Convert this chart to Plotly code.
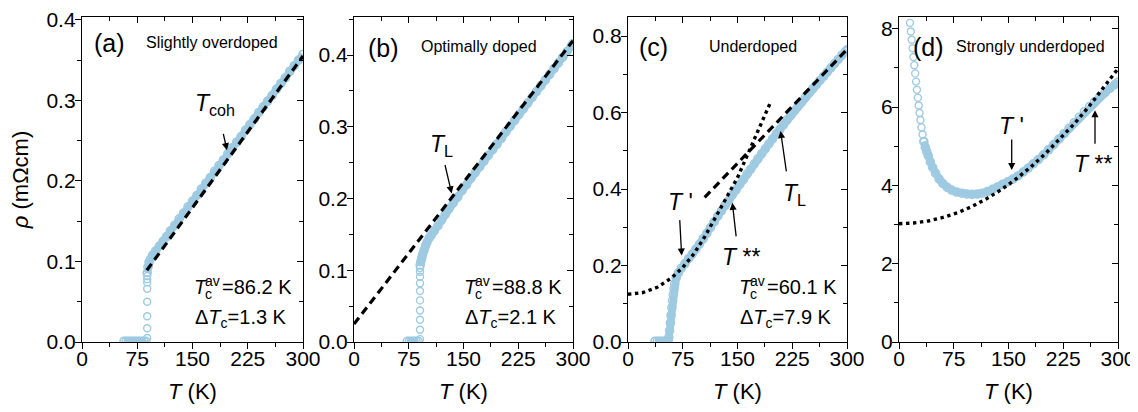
import plotly.graph_objects as go

FONT = "Liberation Sans, Arial, sans-serif"
BLUE = "#9ecae2"

# ---------------- data ----------------
# (a) slightly overdoped
A_FLAT_T = [57, 60, 63, 66, 69, 72, 75, 78, 81, 84, 86.5]
A_FLAT_R = [0.001] * 11
A_TRANS_T = [88.5, 88.5, 88.5, 88.5, 88.5, 88.5, 88.5, 88.5]
A_TRANS_R = [0.005, 0.017, 0.032, 0.050, 0.066, 0.074, 0.078, 0.082]
A_BAND_T = [88.5, 89.5, 91, 93, 96, 100, 105, 110, 115, 120, 126, 132, 138, 144,
            150, 156, 162, 168, 174, 180, 186, 192, 198, 204, 210, 216, 222, 228,
            234, 240, 246, 252, 258, 264, 270, 276, 282, 288, 294, 300]
A_BAND_R = [0.086, 0.093, 0.099, 0.103, 0.108, 0.113, 0.119, 0.125, 0.131, 0.138,
            0.145, 0.153, 0.160, 0.168, 0.175, 0.182, 0.190, 0.197, 0.204, 0.212,
            0.219, 0.226, 0.234, 0.241, 0.248, 0.255, 0.263, 0.270, 0.277, 0.285,
            0.292, 0.299, 0.306, 0.314, 0.321, 0.328, 0.336, 0.343, 0.350, 0.357]
A_FIT_T = [88, 300]
A_FIT_R = [0.089, 0.355]

# (b) optimally doped
B_FLAT_T = [73, 76, 79, 82, 85, 88]
B_FLAT_R = [0.001] * 6
B_TRANS_T = [90.4] * 10
B_TRANS_R = [0.004, 0.017, 0.031, 0.044, 0.058, 0.071, 0.082, 0.091, 0.098, 0.103]
B_BAND_T = [90.6, 91.5, 92.7, 94, 96, 98, 100, 103, 106, 110, 115, 120, 125, 130,
            136, 142, 148, 154, 160, 166, 172, 178, 184, 190, 196, 202, 208, 214,
            220, 226, 232, 238, 244, 250, 256, 262, 268, 274, 280, 286, 292, 298, 300]
B_BAND_R = [0.107, 0.112, 0.117, 0.122, 0.128, 0.134, 0.139, 0.145, 0.149, 0.155,
            0.162, 0.170, 0.178, 0.186, 0.194, 0.202, 0.211, 0.219, 0.228, 0.236,
            0.244, 0.252, 0.260, 0.268, 0.276, 0.284, 0.293, 0.301, 0.309, 0.317,
            0.325, 0.333, 0.341, 0.349, 0.357, 0.365, 0.373, 0.381, 0.389, 0.397,
            0.405, 0.413, 0.416]
B_FIT_T = [0, 300]
B_FIT_R = [0.025, 0.420]

# (c) underdoped
C_BAND_T = [37, 40, 43, 46, 49, 52, 55, 56, 57, 58, 59, 60, 61, 62, 63, 64, 66, 69,
            73, 78, 83, 88, 93, 98, 103, 108, 113, 118, 123, 128, 133, 138, 143,
            148, 153, 158, 163, 168, 173, 178, 183, 188, 193, 198, 203, 208, 213,
            218, 223, 228, 233, 238, 243, 248, 253, 258, 263, 268, 273, 278, 283,
            288, 293, 298, 300]
C_BAND_R = [0.002, 0.002, 0.002, 0.002, 0.002, 0.002, 0.002, 0.012, 0.030, 0.050,
            0.070, 0.090, 0.108, 0.124, 0.139, 0.152, 0.168, 0.181, 0.193, 0.205,
            0.218, 0.230, 0.243, 0.256, 0.270, 0.284, 0.299, 0.314, 0.329, 0.343,
            0.357, 0.370, 0.385, 0.398, 0.412, 0.425, 0.439, 0.452, 0.466, 0.479,
            0.492, 0.505, 0.518, 0.531, 0.544, 0.556, 0.568, 0.581, 0.593, 0.605,
            0.617, 0.628, 0.640, 0.651, 0.662, 0.673, 0.684, 0.695, 0.706, 0.717,
            0.728, 0.739, 0.750, 0.760, 0.764]
C_LIN_T = [105, 300]
C_LIN_R = [0.378, 0.765]
C_DOT_T = [0, 20, 40, 60, 75, 90, 105, 120, 135, 150, 165, 180, 195]
C_DOT_R = [0.125, 0.129, 0.143, 0.168, 0.195, 0.230, 0.275, 0.325, 0.378, 0.430,
           0.495, 0.556, 0.626]

# (d) strongly underdoped
D_SPARSE_T = [15, 16.2, 17.4, 18.6, 19.8, 21, 22.2, 23.4, 24.6, 25.8, 27, 28.2,
              29.4, 30.8, 32.3, 34]
D_SPARSE_R = [8.15, 7.93, 7.72, 7.50, 7.28, 7.07, 6.86, 6.65, 6.44, 6.24, 6.04,
              5.85, 5.67, 5.48, 5.30, 5.12]
D_BAND_T = [34, 36, 38, 40, 43, 46, 50, 55, 60, 66, 72, 79, 86, 93, 100, 107, 114,
            121, 128, 135, 142, 149, 156, 163, 170, 177, 184, 191, 198, 205, 212,
            219, 226, 233, 240, 247, 254, 261, 268, 275, 282, 289, 296, 300]
D_BAND_R = [5.12, 4.97, 4.86, 4.76, 4.60, 4.46, 4.31, 4.16, 4.05, 3.95, 3.88, 3.83,
            3.80, 3.78, 3.77, 3.78, 3.80, 3.84, 3.90, 3.96, 4.03, 4.09, 4.16, 4.24,
            4.34, 4.44, 4.55, 4.66, 4.78, 4.91, 5.04, 5.18, 5.32, 5.46, 5.60, 5.74,
            5.88, 6.01, 6.14, 6.26, 6.37, 6.48, 6.58, 6.63]
D_DOT_T = [0, 20, 40, 60, 80, 100, 120, 140, 160, 180, 200, 220, 240, 260, 280, 300]
D_DOT_R = [3.02, 3.04, 3.09, 3.18, 3.30, 3.46, 3.66, 3.89, 4.16, 4.46, 4.80, 5.17,
           5.57, 6.01, 6.48, 6.98]

PANEL_LABELS = ["(a)", "(b)", "(c)", "(d)"]
PANEL_TITLES = ["Slightly overdoped", "Optimally doped", "Underdoped", "Strongly underdoped"]
TC_AV = ["86.2", "88.8", "60.1"]
DELTA_TC = ["1.3", "2.1", "7.9"]
X_TICKS = [0, 75, 150, 225, 300]
X_MINOR = [37.5, 112.5, 187.5, 262.5]
Y_RANGES = [[0, 0.4035], [0, 0.453], [0, 0.85], [0, 8.3]]
Y_TICKS = [[0, 0.1, 0.2, 0.3, 0.4], [0, 0.1, 0.2, 0.3, 0.4],
           [0, 0.2, 0.4, 0.6, 0.8], [0, 2, 4, 6, 8]]
Y_MINOR = [[0.05, 0.15, 0.25, 0.35], [0.05, 0.15, 0.25, 0.35, 0.45],
           [0.1, 0.3, 0.5, 0.7], [1, 3, 5, 7]]
Y_FMT = [".1f", ".1f", ".1f", "d"]

# ---------------- layout geometry ----------------
# the page body adds an 8px margin, so the figure is 8px smaller and shifted
OFF = 8
W, H = 1138 - OFF, 412 - OFF
ML, MR, MT, MB = 82 - OFF, 20, 17 - OFF, 70
PW = W - ML - MR
PH = H - MT - MB
DOMAINS_PX = [(82, 303), (354, 573), (628, 847), (899, 1118)]  # screen pixels


def px(xp, yp):
    """screen pixel -> paper coords"""
    return (xp - OFF - ML) / PW, (H - MB - (yp - OFF)) / PH


fig = go.Figure()


def ax(i, s):
    return s if i == 1 else f"{s}{i}"


MARK = dict(symbol="circle-open", size=8, color=BLUE, line=dict(width=1.6, color=BLUE))


def band(i, T, R):
    fig.add_trace(go.Scatter(
        x=T, y=R, mode="lines+markers", xaxis=ax(i, "x"), yaxis=ax(i, "y"),
        line=dict(color=BLUE, width=7.5), marker=MARK,
        showlegend=False, hoverinfo="skip"))


def circles(i, T, R):
    fig.add_trace(go.Scatter(
        x=T, y=R, mode="markers", xaxis=ax(i, "x"), yaxis=ax(i, "y"),
        marker=dict(symbol="circle-open", size=7, color=BLUE, line=dict(width=1.4, color=BLUE)),
        showlegend=False, hoverinfo="skip"))


def fitline(i, T, R, dash, width=3.2):
    fig.add_trace(go.Scatter(
        x=T, y=R, mode="lines", xaxis=ax(i, "x"), yaxis=ax(i, "y"),
        line=dict(color="black", width=width, dash=dash),
        showlegend=False, hoverinfo="skip"))


DASH = "8px,5px"
DOT = "3.4px,3.6px"

band(1, A_FLAT_T, A_FLAT_R)
circles(1, A_TRANS_T, A_TRANS_R)
band(1, A_BAND_T, A_BAND_R)
fitline(1, A_FIT_T, A_FIT_R, DASH)

band(2, B_FLAT_T, B_FLAT_R)
circles(2, B_TRANS_T, B_TRANS_R)
band(2, B_BAND_T, B_BAND_R)
fitline(2, B_FIT_T, B_FIT_R, DASH)

band(3, C_BAND_T, C_BAND_R)
fitline(3, C_LIN_T, C_LIN_R, DASH)
fitline(3, C_DOT_T, C_DOT_R, DOT, 3.4)

circles(4, D_SPARSE_T, D_SPARSE_R)
band(4, D_BAND_T, D_BAND_R)
fitline(4, D_DOT_T, D_DOT_R, DOT, 3.4)

# empty traces to create mirror (top/right) axes
for i in range(1, 5):
    fig.add_trace(go.Scatter(x=[], y=[], xaxis=f"x{i+4}", yaxis=f"y{i+4}",
                             showlegend=False, hoverinfo="skip"))

tickfont = dict(family=FONT, size=21, color="black")
layout = dict(width=W, height=H, margin=dict(l=ML, r=MR, t=MT, b=MB, autoexpand=False),
              paper_bgcolor="white", plot_bgcolor="white", template="none",
              font=dict(family=FONT, color="black"), showlegend=False)

for i in range(1, 5):
    d0, d1 = DOMAINS_PX[i - 1]
    dom = [(d0 - OFF - ML) / PW, (d1 - OFF - ML) / PW]
    common_line = dict(showline=True, linecolor="black", linewidth=1.3,
                       showgrid=False, zeroline=False, automargin=False)
    layout[ax(i, "xaxis")] = dict(
        domain=dom, range=[0, 300], anchor=ax(i, "y"), tickvals=X_TICKS,
        ticks="outside", ticklen=6, tickwidth=1.3, tickcolor="black",
        minor=dict(tickvals=X_MINOR, ticks="outside", ticklen=3.5, tickwidth=1.3,
                   tickcolor="black"),
        tickfont=tickfont, ticklabelstandoff=-8, ticklabeloverflow="allow",
        title=dict(text="<i>T</i> (K)", font=dict(family=FONT, size=22), standoff=14),
        **common_line)
    yax = dict(
        domain=[0, 1], range=Y_RANGES[i - 1], anchor=ax(i, "x"), tickvals=Y_TICKS[i - 1],
        tickformat=Y_FMT[i - 1], ticklabelstandoff=-5, ticklabeloverflow="allow",
        ticks="outside", ticklen=6, tickwidth=1.3, tickcolor="black",
        minor=dict(tickvals=Y_MINOR[i - 1], ticks="outside", ticklen=3.5, tickwidth=1.3,
                   tickcolor="black"),
        tickfont=tickfont, **common_line)
    if i == 1:
        yax["title"] = dict(text="<i>ρ</i> (mΩcm)", font=dict(family=FONT, size=22), standoff=19)
    layout[ax(i, "yaxis")] = yax
    layout[f"xaxis{i+4}"] = dict(
        overlaying=ax(i, "x"), side="top", anchor=f"y{i+4}", range=[0, 300],
        tickvals=X_TICKS, ticks="inside", ticklen=6, tickwidth=1.3, tickcolor="black",
        minor=dict(tickvals=X_MINOR, ticks="inside", ticklen=3.5, tickwidth=1.3,
                   tickcolor="black"),
        showticklabels=False, **common_line)
    layout[f"yaxis{i+4}"] = dict(
        overlaying=ax(i, "y"), side="right", anchor=f"x{i+4}", range=Y_RANGES[i - 1],
        tickvals=Y_TICKS[i - 1], ticks="inside", ticklen=6, tickwidth=1.3, tickcolor="black",
        minor=dict(tickvals=Y_MINOR[i - 1], ticks="inside", ticklen=3.5, tickwidth=1.3,
                   tickcolor="black"),
        showticklabels=False, **common_line)

fig.update_layout(**layout)

ann = []


def text(xp, yp, s, size, xanchor="left", yanchor="middle"):
    x, y = px(xp, yp)
    ann.append(dict(x=x, y=y, xref="paper", yref="paper", text=s, showarrow=False,
                    xanchor=xanchor, yanchor=yanchor, borderpad=0,
                    font=dict(family=FONT, size=size, color="black")))


def arrow(i, T, R, dx, dy):
    ann.append(dict(x=T, y=R, xref=ax(i, "x"), yref=ax(i, "y"), ax=dx, ay=dy,
                    text="", showarrow=True, arrowhead=2, arrowsize=1.1,
                    arrowwidth=1.3, arrowcolor="black", standoff=0))


# panel labels and titles
label_pos = [(93, 43, 145, 43), (367, 48, 420, 46), (638, 47, 708, 46), (912, 47, 955, 46)]
for k in range(4):
    lx, ly, tx, ty = label_pos[k]
    text(lx, ly, PANEL_LABELS[k], 25)
    text(tx, ty, PANEL_TITLES[k], 16)

# Tc text blocks
tc_left = [193, 463, 738]
for k in range(3):
    x0 = tc_left[k]
    text(x0, 287, "<i>T</i>", 20)
    text(x0 + 11, 281, "av", 14)
    text(x0 + 11, 294, "c", 14)
    text(x0 + 28, 287, "=" + TC_AV[k] + " K", 20)
    text(x0 + 1, 318, "Δ<i>T</i><sub>c</sub>=" + DELTA_TC[k] + " K", 20)

# arrows
arrow(1, 196.8, 0.238, -4, -18)
text(215, 104, "<i>T</i><sub>coh</sub>", 23, xanchor="center")

arrow(2, 133.8, 0.207, -7, -30)
text(441, 145, "<i>T</i><sub>L</sub>", 23, xanchor="center")

arrow(3, 73.5, 0.226, -2, -37)
text(680, 202, "<i>T</i> '", 23, xanchor="center")
arrow(3, 142.9, 0.364, 4, 35)
text(741, 257, "<i>T</i> **", 23, xanchor="center")
arrow(3, 209, 0.552, 6, 42)
text(794, 194, "<i>T</i><sub>L</sub>", 23, xanchor="center")

arrow(4, 154.4, 4.39, 0, -32)
text(1011, 126, "<i>T</i> '", 23, xanchor="center")
arrow(4, 268.5, 5.92, 0, 35)
text(1093, 164, "<i>T</i> **", 23, xanchor="center")

fig.update_layout(annotations=ann)
fig.write_html("out.html")
